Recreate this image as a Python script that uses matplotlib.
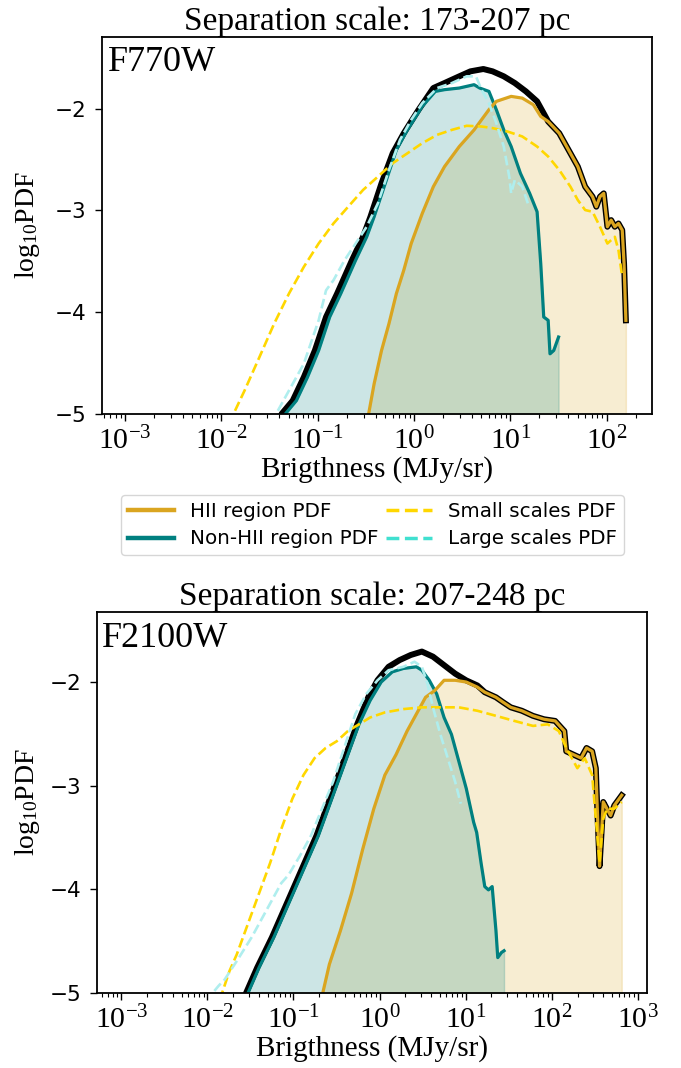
import numpy as np
import matplotlib.pyplot as plt
from matplotlib.lines import Line2D
from matplotlib.ticker import LogLocator

plt.rcParams['font.family'] = 'serif'
plt.rcParams['font.serif'] = ['Liberation Serif', 'DejaVu Serif']
plt.rcParams['mathtext.fontset'] = 'custom'
plt.rcParams['mathtext.rm'] = 'Liberation Serif'
plt.rcParams['mathtext.it'] = 'Liberation Serif:italic'

# log10 brightness / log10 PDF, F770W, 173-207 pc
tot770_lx = [-1.40, -1.376, -1.260, -1.145, -1.030, -0.914, -0.799, -0.645, -0.530, -0.453, -0.338, -0.222, -0.107,
             0.047, 0.200, 0.316, 0.469, 0.585, 0.719, 0.815, 0.931, 1.046, 1.161, 1.277, 1.354, 1.392, 1.507, 1.623,
             1.700, 1.776, 1.853, 1.892, 1.930, 1.969, 2.007, 2.046, 2.084, 2.122, 2.161, 2.180, 2.199]
tot770_ly = [-5.1, -5.0, -4.869, -4.639, -4.376, -4.047, -3.817, -3.489, -3.259, -3.062, -2.733, -2.438, -2.241,
             -2.010, -1.797, -1.748, -1.682, -1.633, -1.610, -1.633, -1.682, -1.748, -1.830, -1.928, -2.060, -2.126,
             -2.241, -2.438, -2.569, -2.766, -2.865, -2.963, -2.865, -2.832, -3.160, -3.095, -3.160, -3.128, -3.193,
             -3.522, -4.080]
hii770_lx = [-0.50, -0.472, -0.415, -0.338, -0.261, -0.184, -0.107, -0.030, 0.085, 0.200, 0.316, 0.469, 0.623, 0.777,
             0.854, 1.008, 1.123, 1.238, 1.315, 1.392, 1.507, 1.623, 1.700, 1.776, 1.853, 1.892, 1.930, 1.969, 2.007,
             2.046, 2.084, 2.122, 2.161, 2.180, 2.199]
hii770_ly = [-5.2, -5.0, -4.704, -4.376, -4.113, -3.817, -3.587, -3.325, -3.029, -2.766, -2.569, -2.372, -2.208,
             -2.010, -1.928, -1.879, -1.896, -1.961, -2.076, -2.126, -2.241, -2.438, -2.569, -2.766, -2.865, -2.963,
             -2.865, -2.832, -3.160, -3.095, -3.160, -3.128, -3.193, -3.522, -4.080]
non770_lx = [-1.40, -1.337, -1.222, -1.107, -0.991, -0.876, -0.761, -0.607, -0.492, -0.415, -0.299, -0.184, -0.069,
             0.085, 0.220, 0.316, 0.469, 0.623, 0.681, 0.777, 0.854, 0.931, 1.008, 1.104, 1.200, 1.277, 1.315, 1.346,
             1.392, 1.411, 1.450, 1.500]
non770_ly = [-5.1, -5.0, -4.869, -4.639, -4.376, -4.047, -3.817, -3.489, -3.259, -3.062, -2.733, -2.405, -2.208,
             -1.978, -1.830, -1.813, -1.797, -1.764, -1.797, -1.830, -2.010, -2.208, -2.372, -2.635, -2.832, -3.013,
             -3.522, -4.047, -4.080, -4.409, -4.376, -4.244]
small770_lx = [-1.90, -1.875, -1.760, -1.606, -1.453, -1.299, -1.145, -0.991, -0.837, -0.684, -0.530, -0.376, -0.222,
               -0.069, 0.085, 0.239, 0.393, 0.546, 0.700, 0.815, 0.969, 1.123, 1.277, 1.392, 1.507, 1.623, 1.700,
               1.776, 1.853, 1.930, 2.007, 2.084, 2.122, 2.161]
small770_ly = [-5.1, -5.0, -4.770, -4.442, -4.113, -3.817, -3.555, -3.325, -3.128, -2.963, -2.799, -2.668, -2.536,
               -2.438, -2.339, -2.257, -2.208, -2.168, -2.175, -2.191, -2.224, -2.273, -2.372, -2.470, -2.602, -2.766,
               -2.898, -2.996, -3.013, -3.160, -3.325, -3.259, -3.390, -3.653]
large770_lx = [-1.45, -1.433, -1.299, -1.145, -0.991, -0.914, -0.837, -0.722, -0.607, -0.492, -0.376, -0.261, -0.146,
               -0.030, 0.085, 0.239, 0.393, 0.546, 0.642, 0.700, 0.777, 0.854, 0.931, 0.988, 1.008, 1.046, 1.085,
               1.123, 1.181]
large770_ly = [-5.1, -5.0, -4.770, -4.507, -4.080, -3.785, -3.686, -3.489, -3.325, -3.160, -2.930, -2.602, -2.306,
               -2.109, -1.945, -1.797, -1.748, -1.682, -1.682, -1.813, -1.945, -2.142, -2.372, -2.668, -2.832, -2.700,
               -2.733, -2.766, -2.930]

# F2100W, 207-248 pc
hii2100_lx = [-0.72, -0.660, -0.583, -0.454, -0.325, -0.196, -0.067, 0.062, 0.191, 0.320, 0.449, 0.535, 0.643, 0.750,
              0.879, 1.008, 1.137, 1.223, 1.353, 1.438, 1.525, 1.654, 1.783, 1.912, 2.041, 2.148, 2.170, 2.256, 2.342,
              2.406, 2.471, 2.514, 2.535, 2.557, 2.578, 2.600, 2.643, 2.686, 2.729, 2.815]
hii2100_ly = [-5.2, -5.0, -4.723, -4.397, -4.038, -3.614, -3.223, -2.897, -2.701, -2.473, -2.277, -2.147, -2.081,
              -1.983, -1.983, -2.000, -2.049, -2.098, -2.147, -2.196, -2.244, -2.277, -2.326, -2.359, -2.375, -2.473,
              -2.668, -2.701, -2.734, -2.636, -2.668, -2.831, -3.320, -3.776, -3.484, -3.157, -3.223, -3.288, -3.190,
              -3.092]
tot2100_lx = [-1.60, -1.551, -1.422, -1.250, -1.078, -0.906, -0.734, -0.561, -0.389, -0.260, -0.131, -0.024, 0.105,
              0.234, 0.363, 0.492, 0.621, 0.750, 0.879, 1.008, 1.137] + hii2100_lx[17:]
tot2100_ly = [-5.2, -5.0, -4.755, -4.462, -4.136, -3.810, -3.484, -3.092, -2.701, -2.408, -2.147, -1.983, -1.853,
              -1.788, -1.739, -1.706, -1.755, -1.837, -1.919, -1.984, -2.033] + hii2100_ly[17:]
non2100_lx = [-1.60, -1.529, -1.400, -1.228, -1.056, -0.884, -0.712, -0.540, -0.368, -0.239, -0.110, 0.019, 0.148,
              0.277, 0.428, 0.492, 0.578, 0.664, 0.750, 0.836, 0.922, 1.008, 1.094, 1.129, 1.180, 1.223, 1.266, 1.309,
              1.353, 1.374, 1.417, 1.447]
non2100_ly = [-5.2, -5.0, -4.755, -4.462, -4.136, -3.810, -3.484, -3.092, -2.701, -2.408, -2.179, -2.000, -1.902,
              -1.869, -1.853, -1.886, -1.983, -2.114, -2.342, -2.505, -2.766, -3.027, -3.353, -3.451, -3.745, -3.973,
              -4.005, -3.973, -4.397, -4.658, -4.609, -4.592]
small2100_lx = [-1.88, -1.830, -1.744, -1.658, -1.529, -1.400, -1.271, -1.142, -1.013, -0.884, -0.755, -0.626, -0.497,
                -0.368, -0.239, -0.110, 0.062, 0.277, 0.492, 0.707, 0.922, 1.137, 1.353, 1.567, 1.783, 1.955, 2.084,
                2.170, 2.256, 2.299, 2.385, 2.471, 2.514, 2.557, 2.600, 2.643, 2.729, 2.815]
small2100_ly = [-5.2, -5.0, -4.788, -4.625, -4.331, -4.038, -3.744, -3.418, -3.125, -2.897, -2.734, -2.636, -2.571,
                -2.473, -2.408, -2.342, -2.293, -2.261, -2.244, -2.244, -2.244, -2.277, -2.326, -2.375, -2.423, -2.408,
                -2.473, -2.636, -2.766, -2.831, -2.734, -2.897, -3.320, -3.744, -3.320, -3.222, -3.222, -3.157]
large2100_lx = [-1.92, -1.87, -1.80, -1.658, -1.486, -1.314, -1.142, -1.056, -0.927, -0.798, -0.669, -0.540, -0.411,
                -0.282, -0.153, -0.024, 0.105, 0.277, 0.406, 0.492, 0.557, 0.621, 0.707, 0.793, 0.879, 0.944]
large2100_ly = [-4.98, -4.93, -4.87, -4.690, -4.462, -4.201, -3.940, -3.859, -3.679, -3.484, -3.223, -2.962, -2.636,
                -2.310, -2.114, -1.984, -1.886, -1.853, -1.804, -1.853, -2.016, -2.244, -2.505, -2.734, -2.962, -3.173]

yticks = [-5, -4, -3, -2]
ytick_labels = ['\u22125', '\u22124', '\u22123', '\u22122']
xticks770 = [1e-3, 1e-2, 1e-1, 1e0, 1e1, 1e2]
xticks2100 = [1e-3, 1e-2, 1e-1, 1e0, 1e1, 1e2, 1e3]


def draw_panel(ax, tot, hii, non, small, large, band, title, xlim, ytop, xticks):
    xh, yh = 10**np.array(hii[0]), np.array(hii[1])
    xn, yn = 10**np.array(non[0]), np.array(non[1])
    ax.fill_between(xh, yh, -6, color='goldenrod', alpha=0.2)
    ax.fill_between(xn, yn, -6, color='teal', alpha=0.2)
    ax.plot(10**np.array(tot[0]), tot[1], color='k', lw=4.3)
    ax.plot(xn, yn, color='teal', lw=2.3)
    ax.plot(xh, yh, color='goldenrod', lw=2.3)
    ax.plot(10**np.array(small[0]), small[1], color='gold', lw=1.9, ls='--')
    ax.plot(10**np.array(large[0]), large[1], color='paleturquoise', lw=1.9, ls='--')
    ax.set_xscale('log')
    ax.set_xticks(xticks)
    ax.xaxis.set_minor_locator(LogLocator(base=10, subs=np.arange(2, 10), numticks=20))
    ax.set_xlim(*xlim)
    ax.set_ylim(-5, ytop)
    ax.set_yticks(yticks)
    ax.set_yticklabels(ytick_labels, fontfamily='DejaVu Sans', fontsize=15.5)
    ax.tick_params(axis='x', labelsize=21.5, length=5, width=1, pad=4)
    ax.tick_params(axis='x', which='minor', length=3, width=0.8)
    ax.tick_params(axis='y', length=5, width=1, pad=6)
    for s in ax.spines.values():
        s.set_linewidth(1.3)
    ax.set_xlabel('Brigthness (MJy/sr)', fontsize=21, labelpad=1)
    ax.set_ylabel(r'log$_{10}$PDF', fontsize=20)
    ax.set_title(title, fontsize=24, pad=4)
    ax.text(0.01, 0.975, band, transform=ax.transAxes, fontsize=26, va='top', ha='left')


fig = plt.figure(figsize=(6.81, 10.68), dpi=100)
ax1 = fig.add_axes([0.1498, 0.6124, 0.8076, 0.3530])
ax2 = fig.add_axes([0.1424, 0.0702, 0.8076, 0.3567])

draw_panel(ax1, (tot770_lx, tot770_ly), (hii770_lx, hii770_ly), (non770_lx, non770_ly),
           (small770_lx, small770_ly), (large770_lx, large770_ly),
           'F770W', 'Separation scale: 173-207 pc', (10**-3.24, 10**2.47), -1.295, xticks770)
draw_panel(ax2, (tot2100_lx, tot2100_ly), (hii2100_lx, hii2100_ly), (non2100_lx, non2100_ly),
           (small2100_lx, small2100_ly), (large2100_lx, large2100_ly),
           'F2100W', 'Separation scale: 207-248 pc', (10**-3.284, 10**3.108), -1.325, xticks2100)
ax1.yaxis.set_label_coords(-0.109, 0.5)
ax2.yaxis.set_label_coords(-0.100, 0.5)

handles = [Line2D([], [], color='goldenrod', lw=3.2),
           Line2D([], [], color='teal', lw=3.2),
           Line2D([], [], color='gold', lw=2.5, ls='--'),
           Line2D([], [], color='turquoise', lw=2.5, ls='--')]
labels = ['HII region PDF', 'Non-HII region PDF', 'Small scales PDF', 'Large scales PDF']
fig.legend(handles, labels, ncol=2, loc='center', bbox_to_anchor=(0.547, 0.5084),
           prop={'family': 'DejaVu Sans', 'size': 14.3}, handlelength=2.3, columnspacing=0.4,
           labelspacing=0.45, borderpad=0.35)

fig.savefig('out.png', dpi=100)
